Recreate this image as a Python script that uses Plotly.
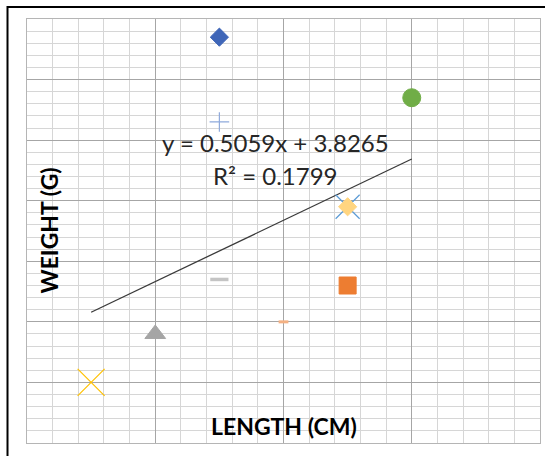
import plotly.graph_objects as go

# ---- data ----
LENGTH_CM = [1.5, 2.5, 1.0, 0.5, 2.5, 3.0, 1.5, 1.5, 2.0, 2.5]
WEIGHT_G = [6.35, 4.30, 3.90, 3.50, 4.95, 5.85, 5.65, 4.35, 4.00, 4.95]
TREND_SLOPE = 0.5059
TREND_INTERCEPT = 3.8265
TREND_R2 = 0.1799
X_TITLE = "LENGTH (CM)"
Y_TITLE = "WEIGHT (G)"

# ---- styles ----
SYMBOLS = ['diamond', 'square', 'triangle-up', 'x-thin-open', 'x-thin-open',
           'circle', 'cross-thin-open', 'line-ew-open', 'line-ew-open', 'diamond']
COLORS = ['#3F66B8', '#ED7D31', '#A5A5A5', '#FFC000', '#5B9BD5',
          '#70AD47', '#8FAADC', '#C4C4C4', '#F4B183', '#FFD580']
SIZES = [14, 17, 18, 27, 24, 18, 14, 13, 7, 14]
LINE_W = [1, 1, 1, 1.2, 1.2, 1, 1.2, 3.5, 3, 1]

FONT = "Lato"

fig = go.Figure()

# trendline from stated equation over data x-range
x0, x1 = min(LENGTH_CM), max(LENGTH_CM)
fig.add_trace(go.Scatter(
    x=[x0, x1],
    y=[TREND_SLOPE * x0 + TREND_INTERCEPT, TREND_SLOPE * x1 + TREND_INTERCEPT],
    mode='lines', line=dict(color='#3a3a3a', width=1.3),
    hoverinfo='skip', showlegend=False))

fig.add_trace(go.Scatter(
    x=LENGTH_CM, y=WEIGHT_G, mode='markers',
    marker=dict(symbol=SYMBOLS, color=COLORS, size=SIZES, opacity=1,
                line=dict(color=COLORS, width=LINE_W)),
    hoverinfo='skip', showlegend=False))

axis_common = dict(showticklabels=False, ticks='', zeroline=False,
                   showgrid=True, gridcolor='#a6a6a6', gridwidth=1.3,
                   showline=True, mirror=True, linecolor='#b5b5b5', linewidth=1.3)

fig.update_xaxes(range=[0, 4], tick0=0, dtick=1,
                 minor=dict(dtick=0.2, showgrid=True, gridcolor='#d6d6d6', gridwidth=1.3),
                 **axis_common)
fig.update_yaxes(range=[3, 6.5], tick0=3, dtick=0.5,
                 minor=dict(dtick=0.1, showgrid=True, gridcolor='#d6d6d6', gridwidth=1.3),
                 **axis_common)

eq_text = f"y = {TREND_SLOPE:.4f}x + {TREND_INTERCEPT:.4f}"
r2_text = f"R² = {TREND_R2:.4f}"

fig.add_annotation(x=1.934, y=5.477, xref='x', yref='y', text=eq_text,
                   showarrow=False, font=dict(family=FONT, size=24, color='#262626'),
                   xanchor='center', yanchor='middle')
fig.add_annotation(x=1.934, y=5.212, xref='x', yref='y', text=r2_text,
                   showarrow=False, font=dict(family=FONT, size=24, color='#262626'),
                   xanchor='center', yanchor='middle')

fig.add_annotation(x=0.501, y=0.039, xref='paper', yref='paper', text=f"<b>{X_TITLE}</b>",
                   showarrow=False, font=dict(family=FONT, size=23, color='#000000'),
                   xanchor='center', yanchor='middle')
fig.add_annotation(x=0.042, y=0.5, xref='paper', yref='paper', text=f"<b>{Y_TITLE}</b>",
                   showarrow=False, textangle=-90,
                   font=dict(family=FONT, size=23, color='#000000'),
                   xanchor='center', yanchor='middle')

# chart-area border (top and left edges visible; rest cropped)
fig.add_shape(type='rect', xref='paper', yref='paper',
              x0=-0.038, y0=-0.2, x1=1.2, y1=1.0283,
              line=dict(color='#000000', width=2), fillcolor='rgba(0,0,0,0)', layer='above')

fig.update_layout(width=545, height=456,
                  margin=dict(l=27, r=5, t=19, b=13, pad=0),
                  paper_bgcolor='white', plot_bgcolor='white',
                  showlegend=False, hovermode=False)

# remove the default page margin so the figure sits at the window origin
fig.write_html("out.html",
               config={'displayModeBar': False},
               post_script="document.body.style.margin='0';document.body.style.overflow='hidden';")
